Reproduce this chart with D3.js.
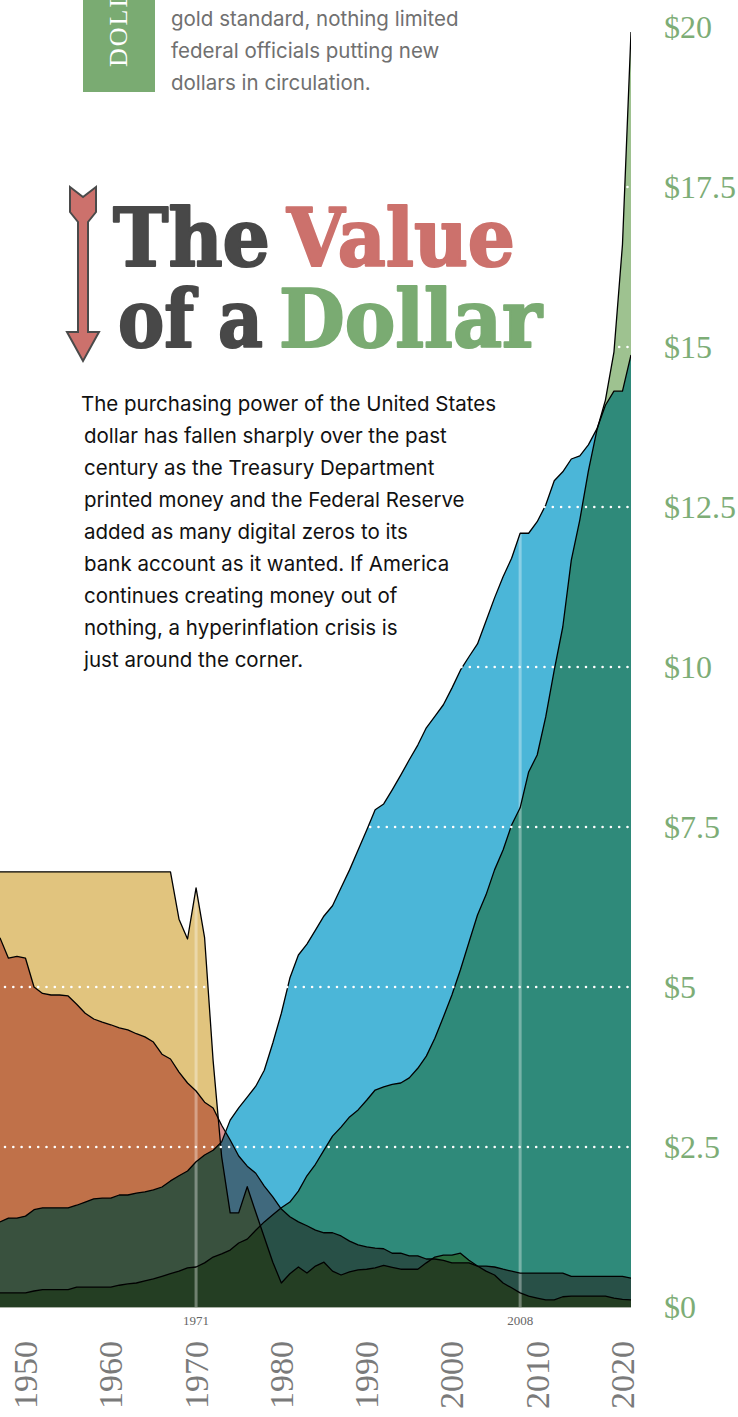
<!DOCTYPE html>
<html>
<head>
<meta charset="utf-8">
<script src="https://cdn.jsdelivr.net/npm/d3@7"></script>
<style>
  body { margin: 0; background: #fff; }
  svg { display: block; }
</style>
</head>
<body>
<script>
//Years on the time axis, one value per year
var years = d3.range(1947, 2022);

//Dollar value measured in gold (tan)
var goldValue = [6.80, 6.80, 6.80, 6.80, 6.80, 6.80, 6.80, 6.80, 6.80, 6.80,
                 6.80, 6.80, 6.80, 6.80, 6.80, 6.80, 6.80, 6.80, 6.80, 6.80,
                 6.80, 6.06, 5.75, 6.55, 5.77, 3.85, 2.35, 1.47, 1.47, 1.88,
                 1.48, 1.09, 0.70, 0.375, 0.52, 0.625, 0.53, 0.64, 0.70, 0.56,
                 0.50, 0.55, 0.58, 0.59, 0.61, 0.65, 0.62, 0.59, 0.59, 0.59,
                 0.69, 0.78, 0.81, 0.81, 0.84, 0.73, 0.64, 0.56, 0.50, 0.375,
                 0.30, 0.22, 0.17, 0.14, 0.11, 0.11, 0.16, 0.17, 0.17, 0.17,
                 0.17, 0.17, 0.14, 0.12, 0.11];

//Purchasing power of the dollar (red)
var priceValue = [5.77, 5.45, 5.48, 5.45, 5.00, 4.90, 4.875, 4.875, 4.86, 4.73,
                  4.59, 4.50, 4.45, 4.41, 4.36, 4.33, 4.27, 4.22, 4.14, 3.95,
                  3.875, 3.67, 3.50, 3.375, 3.20, 3.11, 2.84, 2.61, 2.36, 2.20,
                  2.09, 1.89, 1.72, 1.53, 1.41, 1.33, 1.27, 1.20, 1.16, 1.16,
                  1.11, 1.03, 0.97, 0.94, 0.92, 0.91, 0.84, 0.84, 0.80, 0.80,
                  0.75, 0.75, 0.73, 0.69, 0.69, 0.69, 0.64, 0.64, 0.625, 0.59,
                  0.56, 0.53, 0.53, 0.53, 0.53, 0.53, 0.53, 0.48, 0.48, 0.48,
                  0.48, 0.48, 0.48, 0.48, 0.45];

//Blue series
var blueValue = [1.33, 1.39, 1.39, 1.42, 1.52, 1.55, 1.55, 1.55, 1.55, 1.59,
                 1.64, 1.69, 1.70, 1.70, 1.75, 1.75, 1.78, 1.80, 1.83, 1.875,
                 1.97, 2.05, 2.125, 2.27, 2.375, 2.45, 2.58, 2.92, 3.11, 3.28,
                 3.45, 3.70, 4.125, 4.59, 5.14, 5.50, 5.67, 5.89, 6.11, 6.27,
                 6.55, 6.83, 7.14, 7.45, 7.77, 7.86, 8.08, 8.31, 8.55, 8.78,
                 9.05, 9.23, 9.41, 9.67, 9.95, 10.16, 10.36, 10.72, 11.08, 11.41,
                 11.70, 12.09, 12.09, 12.27, 12.53, 12.91, 13.05, 13.25, 13.30, 13.47,
                 13.72, 14.09, 14.31, 14.31, 14.875];

//Green series
var greenValue = [0.22, 0.22, 0.22, 0.22, 0.25, 0.27, 0.27, 0.27, 0.27, 0.31,
                  0.31, 0.31, 0.31, 0.31, 0.34, 0.36, 0.375, 0.41, 0.44, 0.48,
                  0.52, 0.56, 0.61, 0.625, 0.69, 0.78, 0.83, 0.89, 1.00, 1.06,
                  1.20, 1.33, 1.44, 1.55, 1.64, 1.81, 2.05, 2.23, 2.45, 2.67,
                  2.81, 2.97, 3.08, 3.23, 3.39, 3.44, 3.48, 3.50, 3.58, 3.73,
                  3.92, 4.20, 4.53, 4.875, 5.27, 5.70, 6.125, 6.44, 6.83, 7.14,
                  7.53, 7.80, 8.36, 8.625, 9.22, 9.95, 10.625, 11.67, 12.30, 13.06,
                  13.70, 14.17, 14.92, 16.60, 19.92];

//Axis ticks
var decades = [1950, 1960, 1970, 1980, 1990, 2000, 2010, 2020];
var dollarTicks = [0, 2.5, 5, 7.5, 10, 12.5, 15, 17.5, 20];
var markerLabels = ["1971", "2008"];
var markerYears = [1970, 2008]; // where the original drew them on the time axis

//Texts
var introLines = ["gold standard, nothing limited",
                  "federal officials putting new",
                  "dollars in circulation."];
var bodyLines = ["The purchasing power of the United States",
                 "dollar has fallen sharply over the past",
                 "century as the Treasury Department",
                 "printed money and the Federal Reserve",
                 "added as many digital zeros to its",
                 "bank account as it wanted. If America",
                 "continues creating money out of",
                 "nothing, a hyperinflation crisis is",
                 "just around the corner."];

//Width and height
var w = 738;
var h = 1417;

var svg = d3.select("body")
            .append("svg")
            .attr("width", w)
            .attr("height", h);

//Scales
var x = d3.scaleLinear()
          .domain([1950, 2021])
          .range([25.5, 631]);

var y = d3.scaleLinear()
          .domain([0, 20])
          .range([1307, 27]);

var series = [
  { values: goldValue,  color: "#e1c47e" },
  { values: priceValue, color: "#da9394" },
  { values: blueValue,  color: "#4bb6d8" },
  { values: greenValue, color: "#9ec290" }
];
series.forEach(function(s) {
  s.points = years.map(function(yr, i) { return { year: yr, value: s.values[i] }; });
});

var area = d3.area()
             .x(function(d) { return x(d.year); })
             .y0(y(0))
             .y1(function(d) { return y(d.value); });

var line = d3.line()
             .x(function(d) { return x(d.year); })
             .y(function(d) { return y(d.value); });

//Clip for the plot
svg.append("defs").append("clipPath")
   .attr("id", "plotClip")
   .append("rect")
   .attr("x", 0).attr("y", 0)
   .attr("width", x(2021)).attr("height", y(0));

var plot = svg.append("g").attr("clip-path", "url(#plotClip)");

//Areas multiply onto each other
var areas = plot.append("g").style("isolation", "isolate");
areas.append("rect")
     .attr("width", x(2021)).attr("height", y(0))
     .attr("fill", "#fff");
areas.selectAll("path")
     .data(series)
     .enter()
     .append("path")
     .attr("d", function(d) { return area(d.points); })
     .attr("fill", function(d) { return d.color; })
     .style("mix-blend-mode", "multiply");

//Event lines
plot.selectAll("line.marker")
    .data(markerYears)
    .enter()
    .append("line")
    .attr("class", "marker")
    .attr("x1", function(d) { return x(d); })
    .attr("x2", function(d) { return x(d); })
    .attr("y1", y(20))
    .attr("y2", y(0))
    .attr("stroke", "#fff")
    .attr("stroke-opacity", 0.35)
    .attr("stroke-width", 3);

//Outlines
plot.selectAll("path.outline")
    .data(series)
    .enter()
    .append("path")
    .attr("class", "outline")
    .attr("d", function(d) { return line(d.points); })
    .attr("fill", "none")
    .attr("stroke", "#000")
    .attr("stroke-width", 1.3)
    .attr("stroke-linejoin", "round");

//Dotted gridlines
svg.selectAll("line.grid")
   .data(dollarTicks.filter(function(d) { return d > 0; }))
   .enter()
   .append("line")
   .attr("class", "grid")
   .attr("x1", 5)
   .attr("x2", 629)
   .attr("y1", function(d) { return y(d); })
   .attr("y2", function(d) { return y(d); })
   .attr("stroke", "#fff")
   .attr("stroke-width", 2.6)
   .attr("stroke-linecap", "round")
   .attr("stroke-dasharray", "0,8.3");

//Baseline
svg.append("line")
   .attr("x1", 0).attr("x2", x(2021))
   .attr("y1", y(0) + 0.5).attr("y2", y(0) + 0.5)
   .attr("stroke", "#a9b1a5")
   .attr("stroke-width", 1);

//Dollar labels
svg.selectAll("text.ylab")
   .data(dollarTicks)
   .enter()
   .append("text")
   .attr("class", "ylab")
   .attr("x", 664)
   .attr("y", function(d) { return y(d); })
   .attr("dy", "0.34em")
   .attr("font-family", "'Liberation Serif', serif")
   .attr("font-size", 32)
   .attr("fill", "#7dad76")
   .text(function(d) { return "$" + d; });

//Decade labels
svg.selectAll("text.xlab")
   .data(decades)
   .enter()
   .append("text")
   .attr("class", "xlab")
   .attr("transform", function(d) { return "translate(" + x(d) + ",1341) rotate(-90)"; })
   .attr("text-anchor", "end")
   .attr("dy", "0.34em")
   .attr("font-family", "'Liberation Serif', serif")
   .attr("font-size", 34)
   .attr("fill", "#7a7a7a")
   .text(function(d) { return d; });

//Event labels
svg.selectAll("text.mlab")
   .data(markerYears)
   .enter()
   .append("text")
   .attr("class", "mlab")
   .attr("x", function(d) { return x(d); })
   .attr("y", 1325)
   .attr("text-anchor", "middle")
   .attr("font-family", "'Liberation Serif', serif")
   .attr("font-size", 13)
   .attr("fill", "#666")
   .text(function(d, i) { return markerLabels[i]; });

//Sidebar tag at the top (runs off the top of the page, as in the original)
svg.append("rect")
   .attr("x", 83).attr("y", 0)
   .attr("width", 72).attr("height", 92)
   .attr("fill", "#7aab72");

svg.append("text")
   .attr("transform", "translate(127,67) rotate(-90)")
   .attr("font-family", "'Liberation Serif', serif")
   .attr("font-size", 26)
   .attr("letter-spacing", 2)
   .attr("fill", "#fff")
   .text("DOLLARS");

svg.selectAll("text.intro")
   .data(introLines)
   .enter()
   .append("text")
   .attr("class", "intro")
   .attr("x", 171)
   .attr("y", function(d, i) { return 26 + i * 32; })
   .attr("font-family", "Inter, sans-serif")
   .attr("font-size", 20.5)
   .attr("fill", "#707070")
   .text(function(d) { return d; });

//Arrow
svg.append("path")
   .attr("d", "M70,187 L83,197 L96,187 L96,212 L88,222 L88,332 L99,332 L83,361 L67,332 L78,332 L78,222 L70,212 Z")
   .attr("fill", "#cc716c")
   .attr("stroke", "#4a4a4a")
   .attr("stroke-width", 2)
   .attr("stroke-linejoin", "miter");

//Title
var titleWords = [
  { text: "The",    x: 113, y: 266, len: 157, color: "#484848" },
  { text: "Value",  x: 287, y: 266, len: 228, color: "#cc716c" },
  { text: "of a",   x: 118, y: 347, len: 145, color: "#484848" },
  { text: "Dollar", x: 279, y: 347, len: 263, color: "#7aab72" }
];
svg.selectAll("text.title")
   .data(titleWords)
   .enter()
   .append("text")
   .attr("class", "title")
   .attr("x", function(d) { return d.x; })
   .attr("y", function(d) { return d.y; })
   .attr("textLength", function(d) { return d.len; })
   .attr("lengthAdjust", "spacingAndGlyphs")
   .attr("font-family", "'DejaVu Serif', serif")
   .attr("font-weight", "bold")
   .attr("font-size", 80)
   .attr("fill", function(d) { return d.color; })
   .attr("stroke", function(d) { return d.color; })
   .attr("stroke-width", 2.2)
   .attr("stroke-linejoin", "round")
   .text(function(d) { return d.text; });

//Body copy
svg.selectAll("text.body")
   .data(bodyLines)
   .enter()
   .append("text")
   .attr("class", "body")
   .attr("x", function(d, i) { return i === 0 ? 81 : 84; })
   .attr("y", function(d, i) { return 411 + i * 32; })
   .attr("font-family", "Inter, sans-serif")
   .attr("font-size", 20.5)
   .attr("fill", "#111")
   .text(function(d) { return d; });
</script>
</body>
</html>
